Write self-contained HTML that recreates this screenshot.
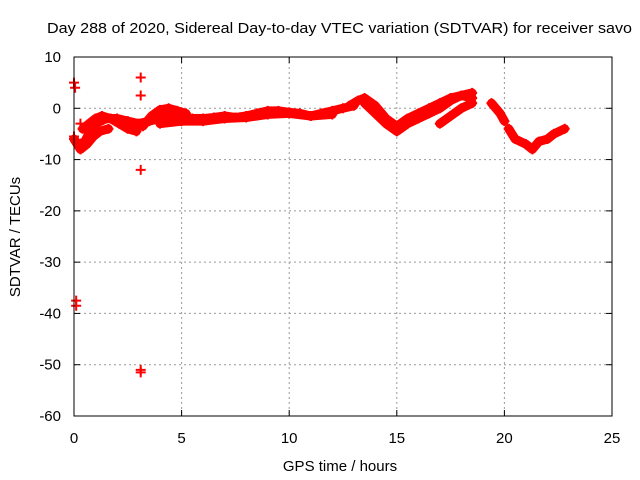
<!DOCTYPE html>
<html><head><meta charset="utf-8"><style>
body{margin:0;background:#fff;}
svg{display:block;font-family:"Liberation Sans",sans-serif;}
</style></head><body>
<svg id="chart" width="640" height="480" viewBox="0 0 640 480">
<text x="47" y="33" font-size="15" textLength="585" lengthAdjust="spacingAndGlyphs">Day 288 of 2020, Sidereal Day-to-day VTEC variation (SDTVAR) for receiver savo</text>
<text x="340" y="471" font-size="15" text-anchor="middle">GPS time / hours</text>
<text transform="translate(20,237) rotate(-90)" font-size="15" text-anchor="middle">SDTVAR / TECUs</text>
<g id="grid"></g><g id="marks"></g><g id="axes"></g>
</svg>
<script>
const xTicks=[0,5,10,15,20,25];
const yTicks=[10,0,-10,-20,-30,-40,-50,-60];
const trackATimes=[0.2,0.5,0.8,1.0,1.5,2,2.5,3,3.5,4,4.5,5,5.5,6,6.5,7,7.5,8,8.5,9,9.5,10,10.5,11,11.5,12,12.5,13];
const trackAValues=[-7,-6.5,-4,-3,-2,-2,-2.5,-3,-2.5,-2,-1.5,-1.8,-2,-2,-1.8,-1.5,-1.8,-1.5,-1,-0.5,-0.5,-0.8,-1,-1.5,-1,-0.5,0,0.5];
const trackBTimes=[3.2,3.6,4,4.4,4.8,5.2];
const trackBValues=[-3.5,-1.5,-0.3,0,-0.5,-1];
const trackCTimes=[0,0.3,0.6,0.9,1.2,1.6];
const trackCValues=[-6,-8,-7,-5.5,-4.5,-4];
const trackITimes=[0.4,0.7,1.0,1.3,1.7,2.1,2.5,2.9];
const trackIValues=[-4,-3,-2,-1.5,-2,-3,-4,-4.5];
const trackJTimes=[4,5,6,7,8,9,10,11,12];
const trackJValues=[-3,-2.5,-2.5,-2,-1.8,-1.2,-1,-1.5,-1.2];
const trackDTimes=[12.8,13.2,13.5,14,14.5,15,15.5,16,16.5,17,17.5,18,18.5];
const trackDValues=[0.5,1.5,2,0.5,-2,-3.5,-2,-1,0,1,2,2.5,3];
const trackETimes=[13.5,14,14.5,15,15.5,16,16.5,17,17.5,18,18.5];
const trackEValues=[1,-1,-3,-4.5,-3,-2,-1,0,1.5,2.5,2];
const trackFTimes=[17,17.5,18,18.5];
const trackFValues=[-3,-1.5,0,1];
const trackGTimes=[19.4,19.6,19.8,20];
const trackGValues=[1,0,-1,-2.5];
const trackHTimes=[20.2,20.5,21,21.3,21.6,22,22.3,22.8];
const trackHValues=[-4,-6,-7,-8,-6.5,-6,-5,-4];
const outlierTimes=[0,0.05,0.1,0.1,3.1,3.1,3.1,3.1,3.1,0,0.3];
const outlierValues=[5,4,-37.5,-38.5,6,2.5,-12,-51,-51.5,-5.5,-3];

const L=74,R=612,T=57,B=416;
const xs=v=>L+(v-0)/25*(R-L);
const ys=v=>T+(10-v)/70*(B-T);
const NS='http://www.w3.org/2000/svg';
function mk(tag,attrs,parent){const e=document.createElementNS(NS,tag);for(const k in attrs)e.setAttribute(k,attrs[k]);parent.appendChild(e);return e;}
const grid=document.getElementById('grid'),axes=document.getElementById('axes'),marks=document.getElementById('marks');
xTicks.forEach(t=>{
  const x=xs(t);
  if(t>0&&t<25){const g=mk('line',{x1:x,x2:x,y1:T,y2:B,stroke:'#999','stroke-dasharray':'2,3'},grid);
  }
  const tl=mk('text',{x:x,y:B+27,'font-size':15,'text-anchor':'middle'},axes);tl.textContent=t;
  
  mk('line',{x1:x,x2:x,y1:B,y2:B-6,stroke:'#000'},axes);mk('line',{x1:x,x2:x,y1:T,y2:T+6,stroke:'#000'},axes);
});
yTicks.forEach(t=>{
  const y=ys(t);
  if(t<10&&t>-60){const g=mk('line',{x1:L,x2:R,y1:y,y2:y,stroke:'#999','stroke-dasharray':'2,3'},grid);
  }
  const tl=mk('text',{x:L-13,y:y+5,'font-size':15,'text-anchor':'end'},axes);tl.textContent=t;
  
  mk('line',{x1:L,x2:L+6,y1:y,y2:y,stroke:'#000'},axes);mk('line',{x1:R,x2:R-6,y1:y,y2:y,stroke:'#000'},axes);
});
const frame=mk('rect',{x:L,y:T,width:R-L,height:B-T,fill:'none',stroke:'#000'},axes);

function plus(t,v){const x=xs(t),y=ys(v);
  mk('path',{d:`M${x-5},${y}H${x+5}M${x},${y-5}V${y+5}`,stroke:'#f00','stroke-width':2},marks);}
const tracks=[[trackATimes,trackAValues],[trackBTimes,trackBValues],[trackCTimes,trackCValues],[trackITimes,trackIValues],[trackJTimes,trackJValues],[trackDTimes,trackDValues],[trackETimes,trackEValues],[trackFTimes,trackFValues],[trackGTimes,trackGValues],[trackHTimes,trackHValues]];
tracks.forEach(([ts,vs],i)=>{
  const p=mk('polyline',{points:ts.map((t,j)=>xs(t)+','+ys(vs[j])).join(' '),fill:'none',stroke:'#f00','stroke-width':9,'stroke-linejoin':'round','stroke-linecap':'round'},marks);
  
  
  ts.forEach((t,j)=>plus(t,vs[j]));
});
outlierTimes.forEach((t,j)=>plus(t,outlierValues[j]));
</script>
</body></html>
